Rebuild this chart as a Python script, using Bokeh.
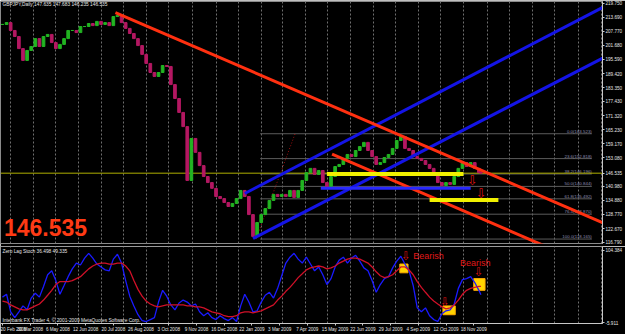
from bokeh.plotting import figure
from bokeh.models import Range1d, FixedTicker, PrintfTickFormatter, ColumnDataSource, Label
from bokeh.layouts import column
from bokeh.embed import file_html
from bokeh.resources import INLINE
from bokeh.core.properties import value

# ---------------- data ----------------
bar = list(range(0, 465, 4)) + [466]
close = [210.6, 211.4, 208.0, 205.4, 200.2, 195.1, 199.4, 201.1, 204.5, 201.1,
         205.4, 206.3, 202.8, 200.2, 202.0, 204.5, 208.0, 208.0, 207.1, 209.7,
         209.7, 211.0, 210.1, 211.9, 210.6, 211.4, 210.1, 214.0, 214.5, 211.4,
         208.9, 206.7, 204.5, 201.5, 197.7, 193.8, 189.9, 188.2, 189.9, 192.9,
         192.5, 184.7, 178.7, 172.7, 166.6, 143.4, 161.5, 155.5, 149.8, 145.1,
         142.5, 140.0, 136.5, 135.6, 133.9, 132.2, 133.5, 135.6, 139.1, 136.5,
         128.7, 119.3, 125.3, 128.7, 131.3, 134.8, 137.4, 136.5, 137.4, 136.5,
         139.1, 136.1, 139.1, 143.4, 146.8, 148.6, 146.0, 147.7, 142.5, 140.8,
         145.1, 149.4, 150.3, 152.9, 154.6, 153.7, 156.3, 158.0, 159.8, 156.3,
         153.7, 150.3, 151.1, 153.3, 154.6, 157.2, 160.6, 162.3, 157.2, 156.3,
         153.7, 152.9, 152.0, 150.3, 148.6, 146.0, 142.5, 141.2, 142.5, 141.7,
         145.1, 148.6, 151.1, 149.4, 151.1, 148.6, 146.8, 146.535]
stoch_main = [32.9, 37.3, 10.5, 1.6, 10.5, 19.5, 13.5, 31.4, 38.8, 32.9,
              49.2, 67.1, 73.1, 58.2, 37.3, 50.7, 64.2, 76.1, 85.0, 82.0,
              92.5, 99.9, 92.5, 83.5, 79.1, 74.6, 73.1, 91.0, 98.4, 85.0,
              58.2, 34.4, 19.5, 6.0, -2.9, -4.4, -1.4, 1.6, 25.4, 43.3,
              34.4, 21.0, 13.5, 23.9, 28.4, 25.4, 19.5, 22.4, 10.5, 4.5,
              9.0, 1.6, -1.4, 4.5, 0.1, -2.9, 1.6, -4.4, 19.5, 37.3,
              25.4, 10.5, 12.0, 25.4, 35.8, 40.3, 31.4, 46.3, 65.6, 85.0,
              94.0, 99.9, 91.0, 85.0, 94.0, 83.5, 73.1, 79.1, 67.1, 52.2,
              61.2, 79.1, 89.5, 94.0, 85.0, 92.5, 96.9, 88.0, 77.6, 73.1,
              58.2, 40.3, 52.2, 61.2, 64.2, 77.6, 88.0, 95.4, 83.5, 73.1,
              50.7, 16.5, 10.5, 16.5, 4.5, -1.4, -4.4, 7.5, 12.0, 13.5,
              22.4, 46.3, 59.7, 61.2, 64.2, 55.2, 43.3, 36.498]
stoch_signal = [26.9, 25.4, 21.0, 18.0, 15.0, 13.5, 13.5, 16.5, 19.5, 22.4,
                28.4, 35.8, 43.3, 52.2, 56.7, 56.7, 56.7, 58.2, 61.2, 64.2,
                70.1, 76.1, 80.5, 83.5, 85.0, 85.0, 83.5, 83.5, 85.0, 85.0,
                80.5, 73.1, 58.2, 44.8, 34.4, 26.9, 22.4, 19.5, 18.0, 19.5,
                21.0, 21.0, 21.0, 21.0, 21.0, 19.5, 19.5, 18.0, 18.0, 16.5,
                13.5, 10.5, 9.0, 7.5, 4.5, 3.1, 3.1, 4.5, 9.0, 10.5,
                10.5, 9.0, 10.5, 12.0, 15.0, 18.0, 21.0, 28.4, 34.4, 41.8,
                47.8, 55.2, 62.7, 68.6, 74.6, 77.6, 79.1, 80.5, 79.1, 76.1,
                77.6, 80.5, 85.0, 88.0, 91.0, 92.5, 92.5, 91.0, 88.0, 85.0,
                79.1, 71.6, 65.6, 62.7, 64.2, 67.1, 73.1, 79.1, 79.1, 74.6,
                67.1, 56.7, 47.8, 40.3, 32.9, 26.9, 22.4, 18.0, 15.0, 16.5,
                21.0, 28.4, 37.3, 43.3, 46.3, 47.8, 49.3, 49.335]

date_tick_bars = [0, 27, 54, 81, 108, 135, 162, 189, 216, 243, 270, 297,
                  324, 351, 378, 405, 432, 459]
date_tick_labels = ["20 Feb 2008", "30 Mar 2008", "6 May 2008", "12 Jun 2008",
                    "20 Jul 2008", "26 Aug 2008", "3 Oct 2008", "9 Nov 2008",
                    "16 Dec 2008", "22 Jan 2009", "3 Mar 2009", "7 Apr 2009",
                    "15 May 2009", "22 Jun 2009", "29 Jul 2009", "4 Sep 2009",
                    "12 Oct 2009", "18 Nov 2009"]
grid_bars = [8, 30, 52, 74, 96, 118, 140, 162, 185, 208, 230, 252, 273, 295,
             317, 339, 361, 383, 405, 427, 449, 472, 494, 516, 538, 561, 583]
price_ticks = [219.750, 213.690, 207.770, 201.680, 195.590, 189.420, 183.350,
               177.430, 171.320, 165.230, 159.170, 153.080, 140.980, 134.880,
               128.770, 122.670, 116.790]
stoch_ticks = [104.384, -5.911]
last_price = 146.535

fib_levels = [0.0, 23.6, 38.2, 50.0, 61.8, 76.4, 100.0]
fib_prices = [163.523, 152.818, 146.196, 140.844, 135.492, 128.870, 118.165]
fib_bar_start, fib_bar_end = 251, 574

red_x0 = [110, 321]; red_y0 = [215.7, 154.7]
red_x1 = [590, 590]; red_y1 = [124.2, 103.4]
blue_x0 = [236, 244]; blue_y0 = [137.8, 118.4]
blue_x1 = [590, 590]; blue_y1 = [219.2, 197.3]
fibline_x = [247, 285]; fibline_y = [118.165, 163.523]
yellow_x0 = [316, 416]; yellow_x1 = [449, 483]; yellow_y = [146.2, 135.0]
blueh_x0 = [310]; blueh_x1 = [456]; blueh_y = [140.0]
arrow_bar = [457.5, 466]; arrow_price = [143.2, 137.8]

box_left = [387, 459, 429]; box_right = [395, 470, 441]
box_top = [83.5, 61.2, 19.5]; box_bottom = [70.1, 43.3, 6.0]
sig_arrow_bar = [393, 464, 431]; sig_arrow_val = [96.2, 70.9, 26.2]
bearish_bar = [400, 445.5]; bearish_val = [95.4, 85.8]

# ---------------- styling helpers ----------------
FONT = "Liberation Sans"
SMALL = "4.6px"
xr = Range1d(-1.9, 584.4)


def style_axis(ax):
    ax.axis_line_color = "#c8c8c8"
    ax.major_tick_line_color = "#c8c8c8"
    ax.minor_tick_line_color = None
    ax.major_tick_out = 2
    ax.major_tick_in = 0
    ax.major_label_standoff = 1
    ax.major_label_text_font_size = SMALL
    ax.major_label_text_color = "#e6e6e6"
    ax.major_label_text_font = FONT


# ---------------- price panel ----------------
main = figure(width=625, height=246, x_range=xr, y_range=Range1d(116.25, 220.48),
              output_backend="svg", toolbar_location=None, y_axis_location="right",
              x_axis_location=None, background_fill_color="black",
              border_fill_color="black", min_border_left=0, min_border_right=19,
              min_border_top=1, min_border_bottom=3, outline_line_color="#8a8a8a")
main.ygrid.visible = False
main.xgrid.ticker = FixedTicker(ticks=grid_bars)
main.xgrid.grid_line_color = "#6e6e6e"
main.xgrid.grid_line_dash = "2 2"
style_axis(main.yaxis[0])
main.yaxis.ticker = FixedTicker(ticks=price_ticks + [last_price])
main.yaxis.formatter = PrintfTickFormatter(format="%.3f")

opens = [close[0]] + close[:-1]
src = ColumnDataSource(dict(
    x=bar,
    top=[max(o, c) for o, c in zip(opens, close)],
    bottom=[min(o, c) for o, c in zip(opens, close)],
    color=["#22b422" if c >= o else "#b41862" for o, c in zip(opens, close)],
))

# fibonacci retracement
main.segment(x0=[fib_bar_start] * len(fib_prices), x1=[fib_bar_end] * len(fib_prices),
             y0=fib_prices, y1=fib_prices, line_color="#5c5c5c", line_width=1)
main.text(x=[fib_bar_end] * len(fib_prices), y=fib_prices,
          text=[f"{l:.1f}({p:.3f})" for l, p in zip(fib_levels, fib_prices)],
          text_font=value(FONT), text_font_size="4.4px", text_color="#8c8cb0",
          text_align="right", text_baseline="bottom")
main.line(fibline_x, fibline_y, line_color="#a01010", line_width=1, line_dash="1 2")

# current price line
main.line([xr.start, xr.end], [last_price, last_price], line_color="#b0b000", line_width=1)

# candles
main.vbar(x="x", top="top", bottom="bottom", width=2.6, color="color", source=src)

# trend lines
main.segment(x0=blue_x0, y0=blue_y0, x1=blue_x1, y1=blue_y1, line_color="#1414e6", line_width=3)
main.segment(x0=red_x0, y0=red_y0, x1=red_x1, y1=red_y1, line_color="#ff3010", line_width=3)
main.segment(x0=yellow_x0, y0=yellow_y, x1=yellow_x1, y1=yellow_y, line_color="#f0f000", line_width=4)
main.segment(x0=blueh_x0, y0=blueh_y, x1=blueh_x1, y1=blueh_y, line_color="#2828ff", line_width=3)
main.text(x=arrow_bar, y=arrow_price, text=["\u21e9"] * len(arrow_bar),
          text_font=value("DejaVu Sans"), text_font_size="13px", text_color="#d81010",
          text_align="center", text_baseline="middle")

main.add_layout(Label(x=0, y=219.0, text="GBPJPY,Daily  147.635  147.683  146.235  146.535",
                      text_font=FONT, text_font_size="4.8px", text_color="#e6e6e6",
                      text_baseline="middle"))
main.add_layout(Label(x=1.5, y=127.0, text="146.535", text_font=FONT,
                      text_font_size="23px", text_font_style="bold",
                      text_color="#ff3a14", text_baseline="top"))

# ---------------- indicator panel ----------------
ind = figure(width=625, height=88, x_range=xr, y_range=Range1d(-7.4, 110.3),
             output_backend="svg", toolbar_location=None, y_axis_location="right",
             background_fill_color="black", border_fill_color="black",
             min_border_left=0, min_border_right=19, min_border_top=0,
             min_border_bottom=0, outline_line_color="#9a9a9a")
ind.ygrid.visible = False
ind.xgrid.ticker = FixedTicker(ticks=grid_bars)
ind.xgrid.grid_line_color = "#6e6e6e"
ind.xgrid.grid_line_dash = "2 2"
style_axis(ind.yaxis[0])
ind.yaxis.ticker = FixedTicker(ticks=stoch_ticks)
ind.yaxis.formatter = PrintfTickFormatter(format="%.3f")
style_axis(ind.xaxis[0])
ind.xaxis.ticker = FixedTicker(ticks=date_tick_bars)
ind.xaxis.major_label_overrides = {b: s for b, s in zip(date_tick_bars, date_tick_labels)}
ind.xaxis.major_label_text_align = "left"

ind.quad(left=box_left, right=box_right, top=box_top, bottom=box_bottom,
         fill_color="#ffd400", line_color="#ffaa00")
ind.line(bar, stoch_main, line_color="#1a1aff", line_width=1.3)
ind.line(bar, stoch_signal, line_color="#d01028", line_width=1.3)
ind.text(x=sig_arrow_bar, y=sig_arrow_val, text=["\u21e9"] * len(sig_arrow_bar),
         text_font=value("DejaVu Sans"), text_font_size="12px", text_color="#d81010",
         text_align="center", text_baseline="middle")
ind.text(x=bearish_bar, y=bearish_val, text=["Bearish"] * len(bearish_bar),
         text_font=value(FONT), text_font_size="9px", text_color="#e01818",
         text_align="left", text_baseline="middle")
ind.add_layout(Label(x=0, y=102.5, text="Zero Lag Stoch 36.498 49.335", text_font=FONT,
                     text_font_size="4.8px", text_color="#e6e6e6", text_baseline="middle"))
ind.add_layout(Label(x=0, y=-3.5, text="Interbank FX Trader 4, \u00a9 2001-2009 MetaQuotes Software Corp.",
                     text_font=FONT, text_font_size="4.8px", text_color="#e6e6e6",
                     text_baseline="middle"))

layout = column(main, ind, spacing=0)
open("out.html", "w").write(file_html(layout, INLINE))
